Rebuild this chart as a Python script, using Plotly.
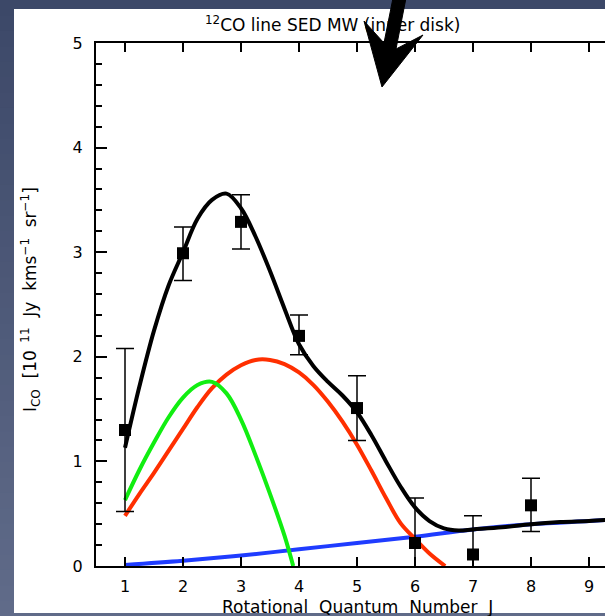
import plotly.graph_objects as go

# ---------------- data ----------------
J_obs = [1, 2, 3, 4, 5, 6, 7, 8]
I_obs = [1.30, 2.99, 3.29, 2.20, 1.51, 0.22, 0.11, 0.58]
err_plus = [0.78, 0.25, 0.26, 0.20, 0.31, 0.43, 0.37, 0.26]
err_minus = [0.78, 0.26, 0.26, 0.18, 0.31, 0.43, 0.37, 0.25]

J_total = [1.00, 1.25, 1.50, 1.75, 2.00, 2.25, 2.50, 2.75, 3.00, 3.25, 3.50, 3.75,
           4.00, 4.25, 4.50, 4.75, 5.00, 5.25, 5.50, 5.75, 6.00, 6.25, 6.50, 6.75,
           7.00, 7.50, 8.00, 8.50, 9.00, 9.30]
I_total = [1.13, 1.72, 2.25, 2.68, 3.00, 3.32, 3.50, 3.56, 3.42, 3.15, 2.82, 2.46,
           2.12, 1.91, 1.76, 1.63, 1.47, 1.25, 1.00, 0.76, 0.56, 0.43, 0.36, 0.34,
           0.35, 0.37, 0.40, 0.42, 0.43, 0.44]

J_green = [1.00, 1.25, 1.50, 1.75, 2.00, 2.25, 2.50, 2.75, 3.00, 3.25, 3.50, 3.75, 3.90]
I_green = [0.63, 0.92, 1.18, 1.42, 1.61, 1.73, 1.76, 1.65, 1.40, 1.06, 0.69, 0.29, 0.00]

J_red = [1.00, 1.25, 1.50, 1.75, 2.00, 2.25, 2.50, 2.75, 3.00, 3.25, 3.50, 3.75,
         4.00, 4.25, 4.50, 4.75, 5.00, 5.25, 5.50, 5.75, 6.00, 6.25, 6.52]
I_red = [0.48, 0.69, 0.89, 1.10, 1.31, 1.52, 1.70, 1.83, 1.92, 1.97, 1.97, 1.93,
         1.85, 1.73, 1.57, 1.38, 1.16, 0.91, 0.65, 0.41, 0.26, 0.12, 0.00]

J_blue = [1.0, 2.0, 3.0, 4.0, 5.0, 6.0, 7.0, 8.0, 9.0, 9.3]
I_blue = [0.01, 0.05, 0.10, 0.16, 0.22, 0.28, 0.35, 0.40, 0.43, 0.44]

x_ticks = [1, 2, 3, 4, 5, 6, 7, 8, 9]
y_ticks = [0, 1, 2, 3, 4, 5]

# ---------------- layout geometry ----------------
W, H = 605, 616
ML, MR, MT, MB = 96, 0, 43, 50
PW, PH = W - ML - MR, H - MT - MB


def px(x):
    return (x - ML) / PW


def py(y):
    return (H - MB - y) / PH


FONT = "DejaVu Sans, Verdana, sans-serif"

fig = go.Figure()

line_common = dict(width=4, shape="spline", smoothing=1.0)
fig.add_trace(go.Scatter(x=J_blue, y=I_blue, mode="lines", line=dict(color="#1f3cff", **line_common),
                         showlegend=False, hoverinfo="skip"))
fig.add_trace(go.Scatter(x=J_red, y=I_red, mode="lines", line=dict(color="#ff2f00", **line_common),
                         showlegend=False, hoverinfo="skip"))
fig.add_trace(go.Scatter(x=J_green, y=I_green, mode="lines", line=dict(color="#11ee11", **line_common),
                         showlegend=False, hoverinfo="skip"))
fig.add_trace(go.Scatter(x=J_total, y=I_total, mode="lines", line=dict(color="black", **line_common),
                         showlegend=False, hoverinfo="skip"))
fig.add_trace(go.Scatter(x=J_obs, y=I_obs, mode="markers",
                         marker=dict(symbol="square", size=12, color="black"),
                         error_y=dict(type="data", symmetric=False, array=err_plus, arrayminus=err_minus,
                                      color="black", thickness=1.5, width=9),
                         showlegend=False, hoverinfo="skip"))

# ---------------- background ----------------
shapes = []
top_c = (0x3c, 0x48, 0x68)
bot_c = (0x60, 0x6b, 0x89)
N = 40
for i in range(N):
    t = i / (N - 1)
    c = tuple(int(round(top_c[k] + (bot_c[k] - top_c[k]) * t)) for k in range(3))
    y0 = i * H / N
    y1 = (i + 1) * H / N + 1
    shapes.append(dict(type="rect", xref="paper", yref="paper", x0=px(0), x1=px(W),
                       y0=py(y1), y1=py(y0), fillcolor="rgb(%d,%d,%d)" % c, line=dict(width=0),
                       layer="below"))
shapes.append(dict(type="rect", xref="paper", yref="paper", x0=px(14), x1=px(W + 5),
                   y0=py(613), y1=py(9), fillcolor="white", line=dict(width=0), layer="below"))

# arrow decoration
arrow_pts = [(393, -2), (406, -2), (396, 49), (423, 35), (382, 87), (364, 21), (384, 43)]
path = "M " + " L ".join("%f,%f" % (px(a), py(b)) for a, b in arrow_pts) + " Z"
shapes.append(dict(type="path", xref="paper", yref="paper", path=path, fillcolor="black",
                   line=dict(color="black", width=1), layer="above"))

annotations = [
    dict(text="<sup>12</sup>CO line SED MW (inner disk)", xref="paper", yref="paper",
         x=px(332), y=py(24), xanchor="center", yanchor="middle", showarrow=False,
         font=dict(family=FONT, size=17, color="black")),
    dict(text="Rotational  Quantum  Number  J", xref="paper", yref="paper",
         x=px(357), y=py(607), xanchor="center", yanchor="middle", showarrow=False,
         font=dict(family=FONT, size=17, color="black")),
    dict(text="I<sub>CO</sub>  [10<sup>  11</sup>  Jy  kms<sup>−1</sup>  sr<sup>−1</sup>]", xref="paper", yref="paper",
         x=px(30), y=py(300), xanchor="center", yanchor="middle", showarrow=False, textangle=-90,
         font=dict(family=FONT, size=17, color="black")),
]

fig.update_layout(
    width=W, height=H,
    margin=dict(l=ML, r=MR, t=MT, b=MB, pad=0),
    paper_bgcolor="#4a5676",
    plot_bgcolor="white",
    shapes=shapes,
    annotations=annotations,
    xaxis=dict(range=[0.5, 0.5 + (W - ML) / 58.0], tickvals=x_ticks, ticktext=[str(v) for v in x_ticks],
               showgrid=False, zeroline=False, showline=True, linecolor="black", linewidth=2,
               mirror="ticks", ticks="inside", ticklen=9, tickwidth=2, tickcolor="black",
               tickfont=dict(family=FONT, size=16, color="black"), ticklabelstandoff=5),
    yaxis=dict(range=[0, 5], tickvals=y_ticks, ticktext=[str(v) for v in y_ticks],
               showgrid=False, zeroline=False, showline=True, linecolor="black", linewidth=2,
               mirror=False, ticks="inside", ticklen=11, tickwidth=2, tickcolor="black",
               minor=dict(dtick=0.2, ticks="inside", ticklen=6, tickwidth=2, tickcolor="black", showgrid=False),
               tickfont=dict(family=FONT, size=16, color="black"), ticklabelstandoff=8),
)

fig.write_html("out.html")
